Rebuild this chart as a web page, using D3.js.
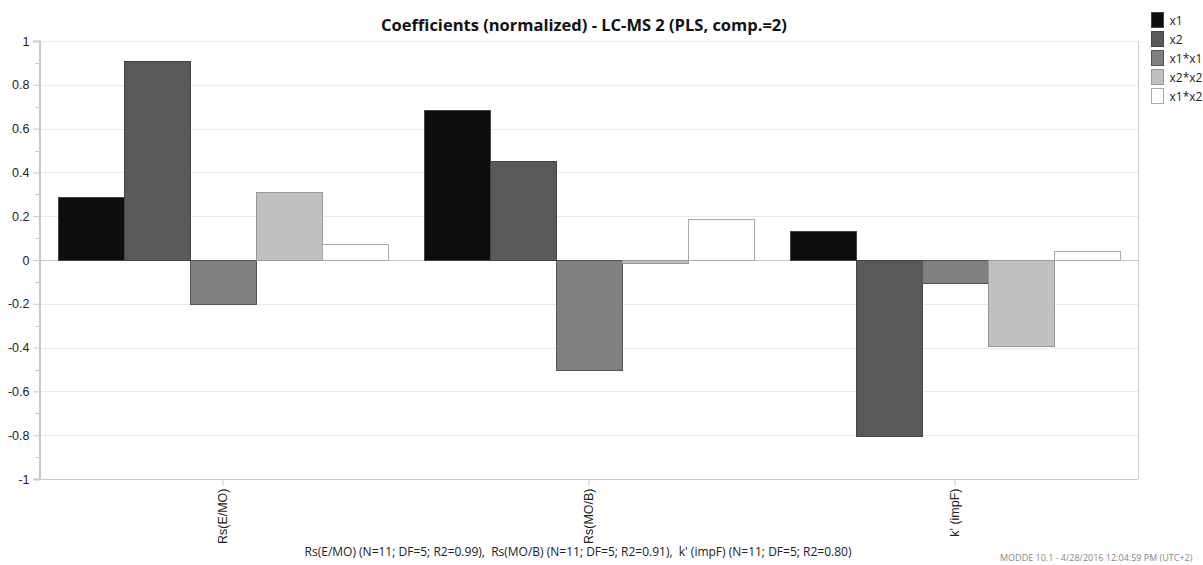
<!DOCTYPE html>
<html>
<head>
<meta charset="utf-8">
<script src="https://cdn.jsdelivr.net/npm/d3@7"></script>
<style>
  body { margin: 0; background: #fff; }
  svg { font-family: "Open Sans", "Noto Sans", sans-serif; }
</style>
</head>
<body>
<div id="chart"></div>
<script>
// Data
const responses = ['Rs(E/MO)', 'Rs(MO/B)', "k' (impF)"];
const terms = ['x1', 'x2', 'x1*x1', 'x2*x2', 'x1*x2'];
const x1 = [0.288, 0.685, 0.132];
const x2 = [0.909, 0.452, -0.804];
const x1x1 = [-0.200, -0.502, -0.105];
const x2x2 = [0.310, -0.015, -0.393];
const x1x2 = [0.073, 0.187, 0.041];
const yTicks = [1, 0.8, 0.6, 0.4, 0.2, 0, -0.2, -0.4, -0.6, -0.8, -1];
const footer = "Rs(E/MO) (N=11; DF=5; R2=0.99),  Rs(MO/B) (N=11; DF=5; R2=0.91),  k' (impF) (N=11; DF=5; R2=0.80)";

const seriesValues = [x1, x2, x1x1, x2x2, x1x2];
const fills = ['#0d0d0d', '#595959', '#808080', '#c0c0c0', '#ffffff'];
const strokes = ['#444', '#444', '#555', '#999', '#aaa'];

const width = 1203;
const height = 565;
const margin = { top: 41, right: 65, bottom: 86, left: 40 };

const svg = d3.select('#chart').append('svg')
  .attr('width', width)
  .attr('height', height);

const x = d3.scaleBand()
  .domain(responses)
  .range([margin.left, width - margin.right]);

const xInner = d3.scaleBand()
  .domain(terms)
  .range([0, x.bandwidth()])
  .paddingOuter(0.27);

const y = d3.scaleLinear()
  .domain([-1, 1])
  .range([height - margin.bottom, margin.top]);

// grid lines
svg.append('g')
  .selectAll('line')
  .data(yTicks)
  .enter().append('line')
  .attr('x1', margin.left)
  .attr('x2', width - margin.right)
  .attr('y1', d => Math.round(y(d)) + 0.5)
  .attr('y2', d => Math.round(y(d)) + 0.5)
  .attr('stroke', d => (d === -1 || d === 0 ? '#c8c8c8' : '#ebebeb'))
  .attr('stroke-width', 1);

// right border
svg.append('line')
  .attr('x1', width - margin.right + 0.5)
  .attr('x2', width - margin.right + 0.5)
  .attr('y1', margin.top)
  .attr('y2', height - margin.bottom)
  .attr('stroke', '#d0d0d0');

// bars
const groups = svg.append('g')
  .selectAll('g')
  .data(responses)
  .enter().append('g')
  .attr('transform', d => `translate(${x(d)},0)`);

groups.selectAll('rect')
  .data((d, i) => terms.map((t, j) => ({ term: t, value: seriesValues[j][i], idx: j })))
  .enter().append('rect')
  .attr('x', d => Math.round(xInner(d.term)) + 0.5)
  .attr('width', Math.round(xInner.bandwidth()))
  .attr('y', d => Math.round(y(Math.max(0, d.value))) + 0.5)
  .attr('height', d => Math.max(1, Math.round(Math.abs(y(d.value) - y(0)))))
  .attr('fill', d => fills[d.idx])
  .attr('stroke', d => strokes[d.idx])
  .attr('stroke-width', 1);

// y axis (plain hyphen for negatives, like the original)
const yAxis = d3.axisLeft(y)
  .tickValues(yTicks)
  .tickFormat(d => String(d))
  .tickSize(6)
  .tickPadding(4);

const yg = svg.append('g')
  .attr('transform', `translate(${margin.left - 0.5},0)`)
  .call(yAxis);
yg.select('.domain').attr('stroke', '#c8c8c8').attr('stroke-width', 2);
yg.selectAll('.tick line').attr('stroke', '#c8c8c8');
yg.selectAll('.tick text').attr('font-size', 12.5).attr('fill', '#222');

// minor ticks
svg.append('g')
  .selectAll('line')
  .data(d3.range(-9, 10, 2).map(v => v / 10))
  .enter().append('line')
  .attr('x1', margin.left - 5)
  .attr('x2', margin.left)
  .attr('y1', d => Math.round(y(d)) + 0.5)
  .attr('y2', d => Math.round(y(d)) + 0.5)
  .attr('stroke', '#c8c8c8');

// x axis
const xAxis = d3.axisBottom(x)
  .tickSize(6)
  .tickPadding(4);

const xg = svg.append('g')
  .attr('transform', `translate(0,${height - margin.bottom + 0.5})`)
  .call(xAxis);
xg.select('.domain').remove();
xg.selectAll('.tick line').attr('stroke', '#c8c8c8');
xg.selectAll('.tick text')
  .attr('font-size', 12.5)
  .attr('fill', '#222')
  .attr('transform', 'rotate(-90)')
  .attr('text-anchor', 'end')
  .attr('x', -9)
  .attr('y', 0)
  .attr('dy', '0.35em');

// title
svg.append('text')
  .attr('x', 584)
  .attr('y', 31)
  .attr('text-anchor', 'middle')
  .attr('font-size', 16.5)
  .attr('font-weight', 'bold')
  .attr('fill', '#111')
  .text('Coefficients (normalized) - LC-MS 2 (PLS, comp.=2)');

// footer
svg.append('text')
  .attr('x', 578)
  .attr('y', 556)
  .attr('text-anchor', 'middle')
  .attr('font-size', 12)
  .attr('fill', '#222')
  .style('white-space', 'pre')
  .text(footer);

svg.append('text')
  .attr('x', 1000)
  .attr('y', 561)
  .attr('font-size', 9)
  .attr('fill', '#888')
  .text('MODDE 10.1 - 4/28/2016 12:04:59 PM (UTC+2)');

// legend
const legend = svg.append('g')
  .selectAll('g')
  .data(terms)
  .enter().append('g')
  .attr('transform', (d, i) => `translate(1151.5,${12.5 + i * 19})`);

legend.append('rect')
  .attr('width', 12)
  .attr('height', 15)
  .attr('fill', (d, i) => fills[i])
  .attr('stroke', (d, i) => strokes[i]);

legend.append('text')
  .attr('x', 18)
  .attr('y', 12)
  .attr('font-size', 12)
  .attr('fill', '#222')
  .text(d => d);
</script>
</body>
</html>
